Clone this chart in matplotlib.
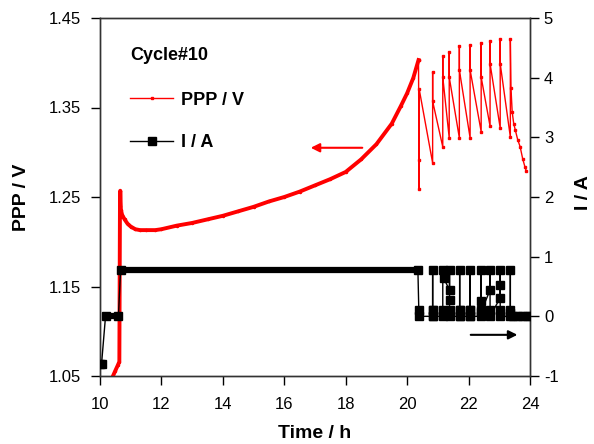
import matplotlib
matplotlib.use('Agg')
import matplotlib.pyplot as plt
from matplotlib.lines import Line2D

plt.rcParams['font.family'] = ['Liberation Sans', 'DejaVu Sans']
plt.rcParams['axes.unicode_minus'] = False

# PPP voltage during charge (left axis)
chg_time = [10.41, 10.50, 10.58, 10.63, 10.65, 10.66, 10.68, 10.72, 10.80, 10.90,
            11.00, 11.15, 11.30, 11.50, 11.80, 12.00, 12.50, 13.00, 13.50, 14.00,
            14.50, 15.00, 15.50, 16.00, 16.50, 17.00, 17.50, 18.00, 18.50, 19.00,
            19.50, 19.80, 20.00, 20.20, 20.37]
chg_volt = [1.049, 1.056, 1.062, 1.066, 1.240, 1.257, 1.236, 1.230, 1.225, 1.220,
            1.217, 1.214, 1.213, 1.213, 1.213, 1.214, 1.218, 1.221, 1.225, 1.229,
            1.234, 1.239, 1.245, 1.250, 1.256, 1.263, 1.270, 1.278, 1.292, 1.309,
            1.332, 1.352, 1.366, 1.383, 1.403]

# PPP voltage during the pulse part
pulse_time = [20.37, 20.39, 20.39, 20.39,
              20.83, 20.83, 20.83,
              21.16, 21.16, 21.16,
              21.37, 21.37, 21.37,
              21.70, 21.70, 21.70,
              22.05, 22.05, 22.05,
              22.41, 22.41, 22.41,
              22.70, 22.70, 22.70,
              23.03, 23.03, 23.03,
              23.36, 23.36, 23.38, 23.42, 23.47, 23.52, 23.60, 23.68, 23.76, 23.84, 23.88]
pulse_volt = [1.403, 1.259, 1.291, 1.371,
              1.288, 1.390, 1.357,
              1.306, 1.407, 1.384,
              1.316, 1.412, 1.384,
              1.316, 1.419, 1.392,
              1.316, 1.420, 1.392,
              1.323, 1.422, 1.384,
              1.329, 1.424, 1.399,
              1.327, 1.426, 1.399,
              1.317, 1.426, 1.372, 1.345, 1.332, 1.325, 1.314, 1.306, 1.293, 1.283, 1.279]

# current (right axis)
cur_time = [10.00, 10.05, 10.18, 10.60, 10.67, 20.35, 20.38, 20.38,
            20.83, 20.83, 20.83, 20.83, 20.83,
            21.16, 21.16, 21.16, 21.19, 21.38, 21.38, 21.38, 21.38, 21.38,
            21.71, 21.71, 21.71, 21.71, 21.71,
            22.05, 22.05, 22.05, 22.05, 22.05,
            22.41, 22.41, 22.41, 22.41, 22.41,
            22.70, 22.70, 22.70, 22.70,
            23.03, 23.03, 23.03, 23.03, 23.03,
            23.36, 23.36, 23.36, 23.36, 23.45, 23.60, 23.75, 23.90, 24.00]
cur_amp = [-0.80, -0.80, 0.00, 0.00, 0.78, 0.78, 0.10, 0.00,
           0.00, 0.10, 0.78, 0.10, 0.00,
           0.00, 0.10, 0.78, 0.64, 0.44, 0.78, 0.28, 0.10, 0.00,
           0.00, 0.10, 0.78, 0.10, 0.00,
           0.00, 0.10, 0.78, 0.10, 0.00,
           0.00, 0.10, 0.78, 0.25, 0.08,
           0.44, 0.78, 0.10, 0.00,
           0.31, 0.53, 0.78, 0.10, 0.00,
           0.00, 0.10, 0.78, 0.05, 0.00, 0.00, 0.00, 0.00, 0.00]

# constant current holds (drawn as thick bars)
hold_start = [10.00, 10.12, 10.67, 23.40]
hold_end = [10.05, 10.62, 20.35, 24.00]
hold_level = [-0.80, 0.00, 0.78, 0.00]

fig = plt.figure(figsize=(5.94, 4.44), dpi=100)
ax = fig.add_axes([100 / 594, 1 - 376 / 444, 430 / 594, 358 / 444])
ax2 = ax.twinx()

ax.plot(chg_time, chg_volt, color='red', lw=2.8, marker='.', ms=3, zorder=3)
ax.plot(pulse_time, pulse_volt, color='red', lw=1, marker='s', ms=2, zorder=3)

ax2.plot(cur_time, cur_amp, color='black', lw=1, marker='s', ms=5.5, zorder=3)
ax2.hlines(hold_level, hold_start, hold_end, color='black', lw=4.5, zorder=3)

ax.set_xlim(10, 24)
ax.set_ylim(1.05, 1.45)
ax2.set_ylim(-1, 5)
ax.set_xticks(range(10, 25, 2))
ax.set_yticks([1.05, 1.15, 1.25, 1.35, 1.45])
ax.set_yticklabels(['1.05', '1.15', '1.25', '1.35', '1.45'])
ax2.set_yticks(range(-1, 6))

for a in (ax, ax2):
    for s in a.spines.values():
        s.set_color('#333333')
        s.set_linewidth(1)
ax.tick_params(axis='x', direction='out', length=6.5, width=1, pad=8.5, labelsize=12, top=False)
ax.tick_params(axis='y', direction='out', length=6.5, width=1, pad=7, labelsize=12, right=False)
ax2.tick_params(axis='y', direction='out', length=6.5, width=1, pad=3.5, labelsize=12)

# direction arrows
ax.annotate('', xy=(16.77, 1.305), xytext=(18.63, 1.305),
            arrowprops=dict(arrowstyle='-|>', color='red', lw=1.5, mutation_scale=13))
ax2.annotate('', xy=(23.68, -0.31), xytext=(21.98, -0.31),
             arrowprops=dict(arrowstyle='-|>', color='black', lw=1.5, mutation_scale=13))

ax.text(30 / 430, (376 - 56) / 358, 'Cycle#10', transform=ax.transAxes,
        fontsize=13, fontweight='bold', va='center', ha='left')

handles = [Line2D([], [], color='red', lw=1, marker='s', ms=2),
           Line2D([], [], color='black', lw=1, marker='s', ms=5.5)]
ax.legend(handles, ['PPP / V', 'I / A'], loc='upper left',
          bbox_to_anchor=(30 / 430, (376 - 91.5) / 358), frameon=False,
          borderaxespad=0, borderpad=0, handlelength=2.39, handletextpad=0.44,
          labelspacing=1.41, numpoints=1, prop={'weight': 'bold', 'size': 13})

fig.text(315 / 594, 1 - 433 / 444, 'Time / h', fontsize=14, fontweight='bold',
         ha='center', va='center')
fig.text(22 / 594, 1 - 197 / 444, 'PPP / V', fontsize=14, fontweight='bold',
         ha='center', va='center', rotation=90)
fig.text(584 / 594, 1 - 193 / 444, 'I / A', fontsize=14, fontweight='bold',
         ha='center', va='center', rotation=90)

fig.savefig('out.png', dpi=100)
